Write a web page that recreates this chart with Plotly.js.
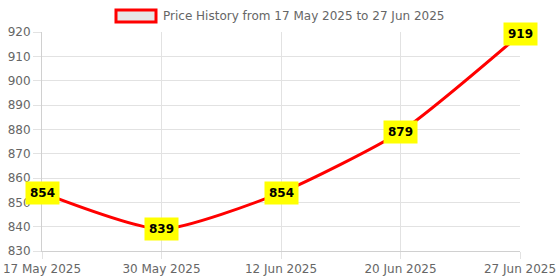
<!DOCTYPE html>
<html>
<head>
<meta charset="utf-8">
<script src="https://cdn.plot.ly/plotly-3.0.1.min.js"></script>
<style>html,body{margin:0;padding:0;background:#fff;}#chart{width:560px;height:280px;}</style>
</head>
<body>
<div id="chart"></div>
<script>
var categories = ["17 May 2025", "30 May 2025", "12 Jun 2025", "20 Jun 2025", "27 Jun 2025"];
var prices = [854, 839, 854, 879, 919];
var yTicks = [830, 840, 850, 860, 870, 880, 890, 900, 910, 920];
var seriesName = "Price History from 17 May 2025 to 27 Jun 2025";

var xIdx = categories.map(function(_, i){ return i; });

var trace = {
  x: xIdx,
  y: prices,
  type: "scatter",
  mode: "lines",
  line: {color: "#ff0000", width: 3, shape: "spline", smoothing: 0.6},
  showlegend: false,
  hoverinfo: "skip"
};

var annotations = prices.map(function(v, i){
  return {
    x: xIdx[i], y: v, xref: "x", yref: "y",
    text: "<b>" + v + "</b>", showarrow: false,
    bgcolor: "#ffff00", borderpad: 4,
    font: {family: "DejaVu Sans", size: 12, color: "#000"},
    xanchor: "center", yanchor: "middle"
  };
});
annotations.push({
  xref: "paper", yref: "paper", x: 0.249, y: 1.073,
  xanchor: "left", yanchor: "middle", showarrow: false,
  text: seriesName,
  font: {family: "DejaVu Sans", size: 12, color: "#666"}
});

var layout = {
  width: 560, height: 280,
  margin: {l: 42, r: 40, t: 32, b: 29},
  paper_bgcolor: "#fff", plot_bgcolor: "#fff",
  font: {family: "DejaVu Sans", size: 12, color: "#666"},
  xaxis: {
    range: [0, categories.length - 1],
    tickvals: xIdx, ticktext: categories,
    showgrid: true, gridcolor: "#e2e2e2", gridwidth: 1,
    ticks: "outside", ticklen: 7, tickcolor: "#e2e2e2",
    showline: true, linecolor: "#d0d0d0", linewidth: 1,
    zeroline: false, fixedrange: true,
    tickfont: {family: "DejaVu Sans", size: 12, color: "#666"}
  },
  yaxis: {
    range: [830, 920],
    tickvals: yTicks,
    showgrid: true, gridcolor: "#e2e2e2", gridwidth: 1,
    ticks: "outside", ticklen: 8, tickcolor: "#e2e2e2",
    showline: true, linecolor: "#d0d0d0", linewidth: 1,
    zeroline: false, fixedrange: true,
    tickfont: {family: "DejaVu Sans", size: 12, color: "#666"}
  },
  shapes: [{
    type: "rect", xref: "paper", yref: "paper",
    x0: 0.1548, x1: 0.2385, y0: 1.0457, y1: 1.1005,
    fillcolor: "#e6e6e6", line: {color: "#ff0000", width: 3}
  }],
  annotations: annotations,
  showlegend: false
};

Plotly.newPlot("chart", [trace], layout, {displayModeBar: false, staticPlot: true});
</script>
</body>
</html>
